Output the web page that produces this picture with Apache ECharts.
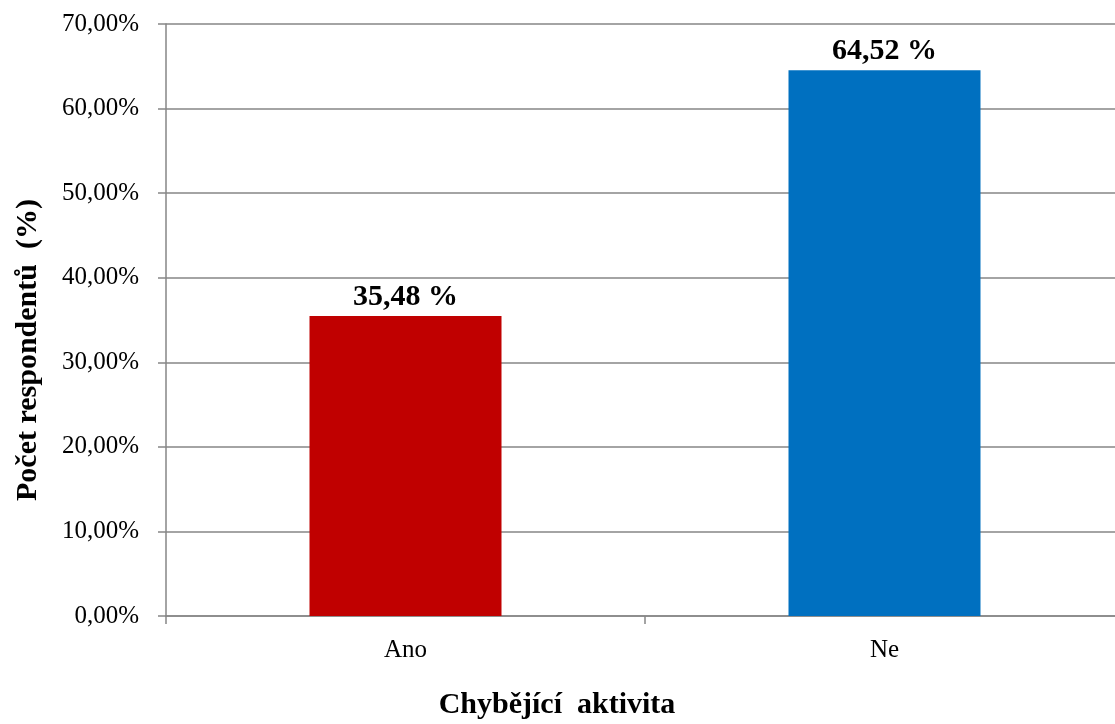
<!DOCTYPE html>
<html>
<head>
<meta charset="utf-8">
<script src="https://cdn.jsdelivr.net/npm/echarts@6/dist/echarts.min.js"></script>
<style>html,body{margin:0;padding:0;background:#fff;overflow:hidden}#c{width:1124px;height:724px}</style>
</head>
<body>
<div id="c"></div>
<script>
const categories = ['Ano', 'Ne'];
const values = [35.48, 64.52];
const barColors = ['#C00000', '#0070C0'];
const yTitle = 'Počet respondentů  (%)';
const xTitle = 'Chybějící  aktivita';

const fontFam = '"Liberation Serif", "Times New Roman", serif';
const chart = echarts.init(document.getElementById('c'));
chart.setOption({
  animation: false,
  backgroundColor: '#fff',
  grid: { left: 166, top: 24, bottom: 108, right: 0, containLabel: false },
  xAxis: {
    type: 'category',
    data: categories,
    axisLine: { lineStyle: { color: '#868686', width: 1.5 } },
    axisTick: { show: true, length: 8, lineStyle: { color: '#868686', width: 1.5 } },
    axisLabel: { color: '#000', fontFamily: fontFam, fontSize: 25, margin: 22 }
  },
  yAxis: {
    type: 'value', min: 0, max: 70, interval: 10,
    axisLine: { show: true, lineStyle: { color: '#868686', width: 1.5 } },
    axisTick: { show: true, length: 8, lineStyle: { color: '#868686', width: 1.5 } },
    splitLine: { lineStyle: { color: '#868686', width: 1.5 } },
    axisLabel: {
      color: '#000', fontFamily: fontFam, fontSize: 25, margin: 27,
      formatter: v => v.toFixed(2).replace('.', ',') + '%'
    }
  },
  series: [{
    type: 'bar',
    barWidth: 192,
    data: values.map((v, i) => ({ value: v, itemStyle: { color: barColors[i] } })),
    label: {
      show: true, position: 'top', distance: 4,
      color: '#000', fontFamily: fontFam, fontSize: 30, fontWeight: 'bold',
      formatter: p => p.value.toFixed(2).replace('.', ',') + ' %'
    }
  }],
  graphic: [
    {
      type: 'text', x: 557, y: 705,
      style: { text: xTitle, font: 'bold 30px ' + fontFam, fill: '#000', textAlign: 'center', textVerticalAlign: 'middle' }
    },
    {
      type: 'text', x: 28, y: 350, rotation: Math.PI / 2,
      style: { text: yTitle, font: 'bold 30px ' + fontFam, fill: '#000', textAlign: 'center', textVerticalAlign: 'middle' }
    }
  ]
});
</script>
</body>
</html>
